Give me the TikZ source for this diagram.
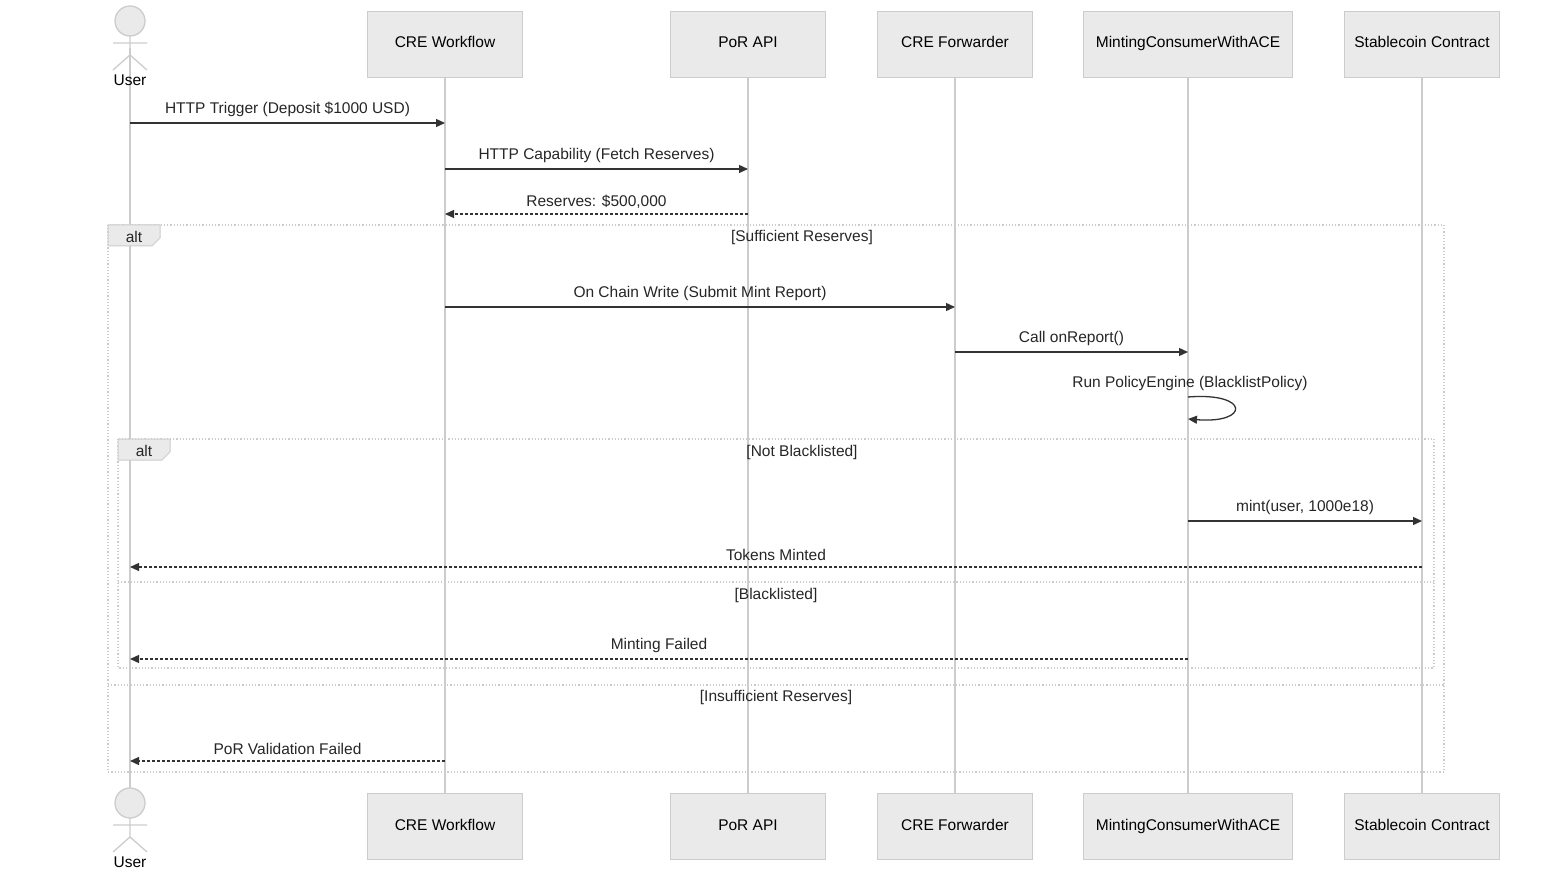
\documentclass[tikz,border=0pt]{standalone}
\usepackage{fontspec}
\setmainfont{Liberation Sans}
\usetikzlibrary{arrows.meta,positioning}
\definecolor{boxfill}{HTML}{EAEAEA}
\definecolor{boxline}{HTML}{CCCCCC}
\definecolor{msgline}{HTML}{333333}
\tikzset{
	actorbox/.style={draw=boxline, fill=boxfill, minimum width=155pt, minimum height=66pt, inner sep=0pt, text height=11pt, text depth=3pt, font=\fontsize{15.5}{18}\selectfont},
	life/.style={draw=boxline, line width=1.5pt},
	msg/.style={draw=msgline, line width=1.3pt, -{Triangle[length=9pt,width=8pt]}},
	reply/.style={msg, dash pattern=on 3pt off 2pt},
	lbl/.style={font=\fontsize{15.5}{18}\selectfont, text=black!85},
	frame/.style={draw=boxline, line width=1.2pt, dotted},
}
\begin{document}
\begin{tikzpicture}[x=1pt,y=-1pt]
	\useasboundingbox (0,0) rectangle (1568,882);
	
	% lifelines
	\foreach \x in {130,445,748,955,1188,1422}
		\draw[life] (\x,48) -- (\x,800);
	
	% participants top
	\node[actorbox] (wfT) at (445,44) {CRE Workflow};
	\node[actorbox] (porT) at (748,44) {PoR API};
	\node[actorbox] (fwdT) at (955,44) {CRE Forwarder};
	\node[actorbox, minimum width=209pt] (mintT) at (1188,44) {MintingConsumerWithACE};
	\node[actorbox] (coinT) at (1422,44) {Stablecoin Contract};
	% participants bottom
	\node[actorbox] (wfB) at (445,826) {CRE Workflow};
	\node[actorbox] (porB) at (748,826) {PoR API};
	\node[actorbox] (fwdB) at (955,826) {CRE Forwarder};
	\node[actorbox, minimum width=209pt] (mintB) at (1188,826) {MintingConsumerWithACE};
	\node[actorbox] (coinB) at (1422,826) {Stablecoin Contract};
	
	% user figures
	\foreach \y/\n in {0/userT,782/userB}{
		\draw[boxline, fill=boxfill, line width=1.3pt] (130,\y+21) circle (15);
		\draw[boxline, line width=1.3pt] (130,\y+36) -- (130,\y+55) (113,\y+43) -- (147,\y+43)
			(130,\y+55) -- (113,\y+70) (130,\y+55) -- (147,\y+70);
		\node[lbl, text=black] (\n) at (130,\y+80) {User};
	}
	
	% frames
	\draw[frame] (108,225) rectangle (1444,772);
	\draw[frame] (108,685) -- (1444,685);
	\draw[boxline, fill=boxfill, line width=1pt] (108,225) -- (160,225) -- (160,238) -- (152,246) -- (108,246) -- cycle;
	\node[lbl] at (134,237) {alt};
	\node[lbl] at (802,237) {[Sufficient Reserves]};
	\node[lbl] at (776,697) {[Insufficient Reserves]};
	
	\draw[frame] (118,439) rectangle (1434,668);
	\draw[frame] (118,582) -- (1434,582);
	\draw[boxline, fill=boxfill, line width=1pt] (118,439) -- (170,439) -- (170,452) -- (162,460) -- (118,460) -- cycle;
	\node[lbl] at (144,451) {alt};
	\node[lbl] at (802,452) {[Not Blacklisted]};
	\node[lbl] at (776,595) {[Blacklisted]};
	
	% message end points
	\foreach \n/\x in {u/130,w/445,p/748,f/955,m/1188,s/1422}
		\foreach \y in {123,169,214,307,352,397,419,521,567,659,761}
			\coordinate (\n\y) at (\x,\y);
	
	% messages
	\draw[msg] (u123) -- node[lbl, above=2pt] {HTTP Trigger (Deposit \$1000 USD)} (w123);
	\draw[msg] (w169) -- node[lbl, above=2pt] {HTTP Capability (Fetch Reserves)} (p169);
	\draw[reply] (p214) -- node[lbl, above=2pt] {Reserves: \$500,000} (w214);
	\draw[msg] (w307) -- node[lbl, above=2pt] {On Chain Write (Submit Mint Report)} (f307);
	\draw[msg] (f352) -- node[lbl, above=2pt] {Call onReport()} (m352);
	\draw[msg] (m397) .. controls (1250,392) and (1250,424) .. (m419);
	\node[lbl] at (1190,383) {Run PolicyEngine (BlacklistPolicy)};
	\draw[msg] (m521) -- node[lbl, above=2pt] {mint(user, 1000e18)} (s521);
	\draw[reply] (s567) -- node[lbl, above=2pt] {Tokens Minted} (u567);
	\draw[reply] (m659) -- node[lbl, above=2pt] {Minting Failed} (u659);
	\draw[reply] (w761) -- node[lbl, above=2pt] {PoR Validation Failed} (u761);
	
\end{tikzpicture}
\end{document}
